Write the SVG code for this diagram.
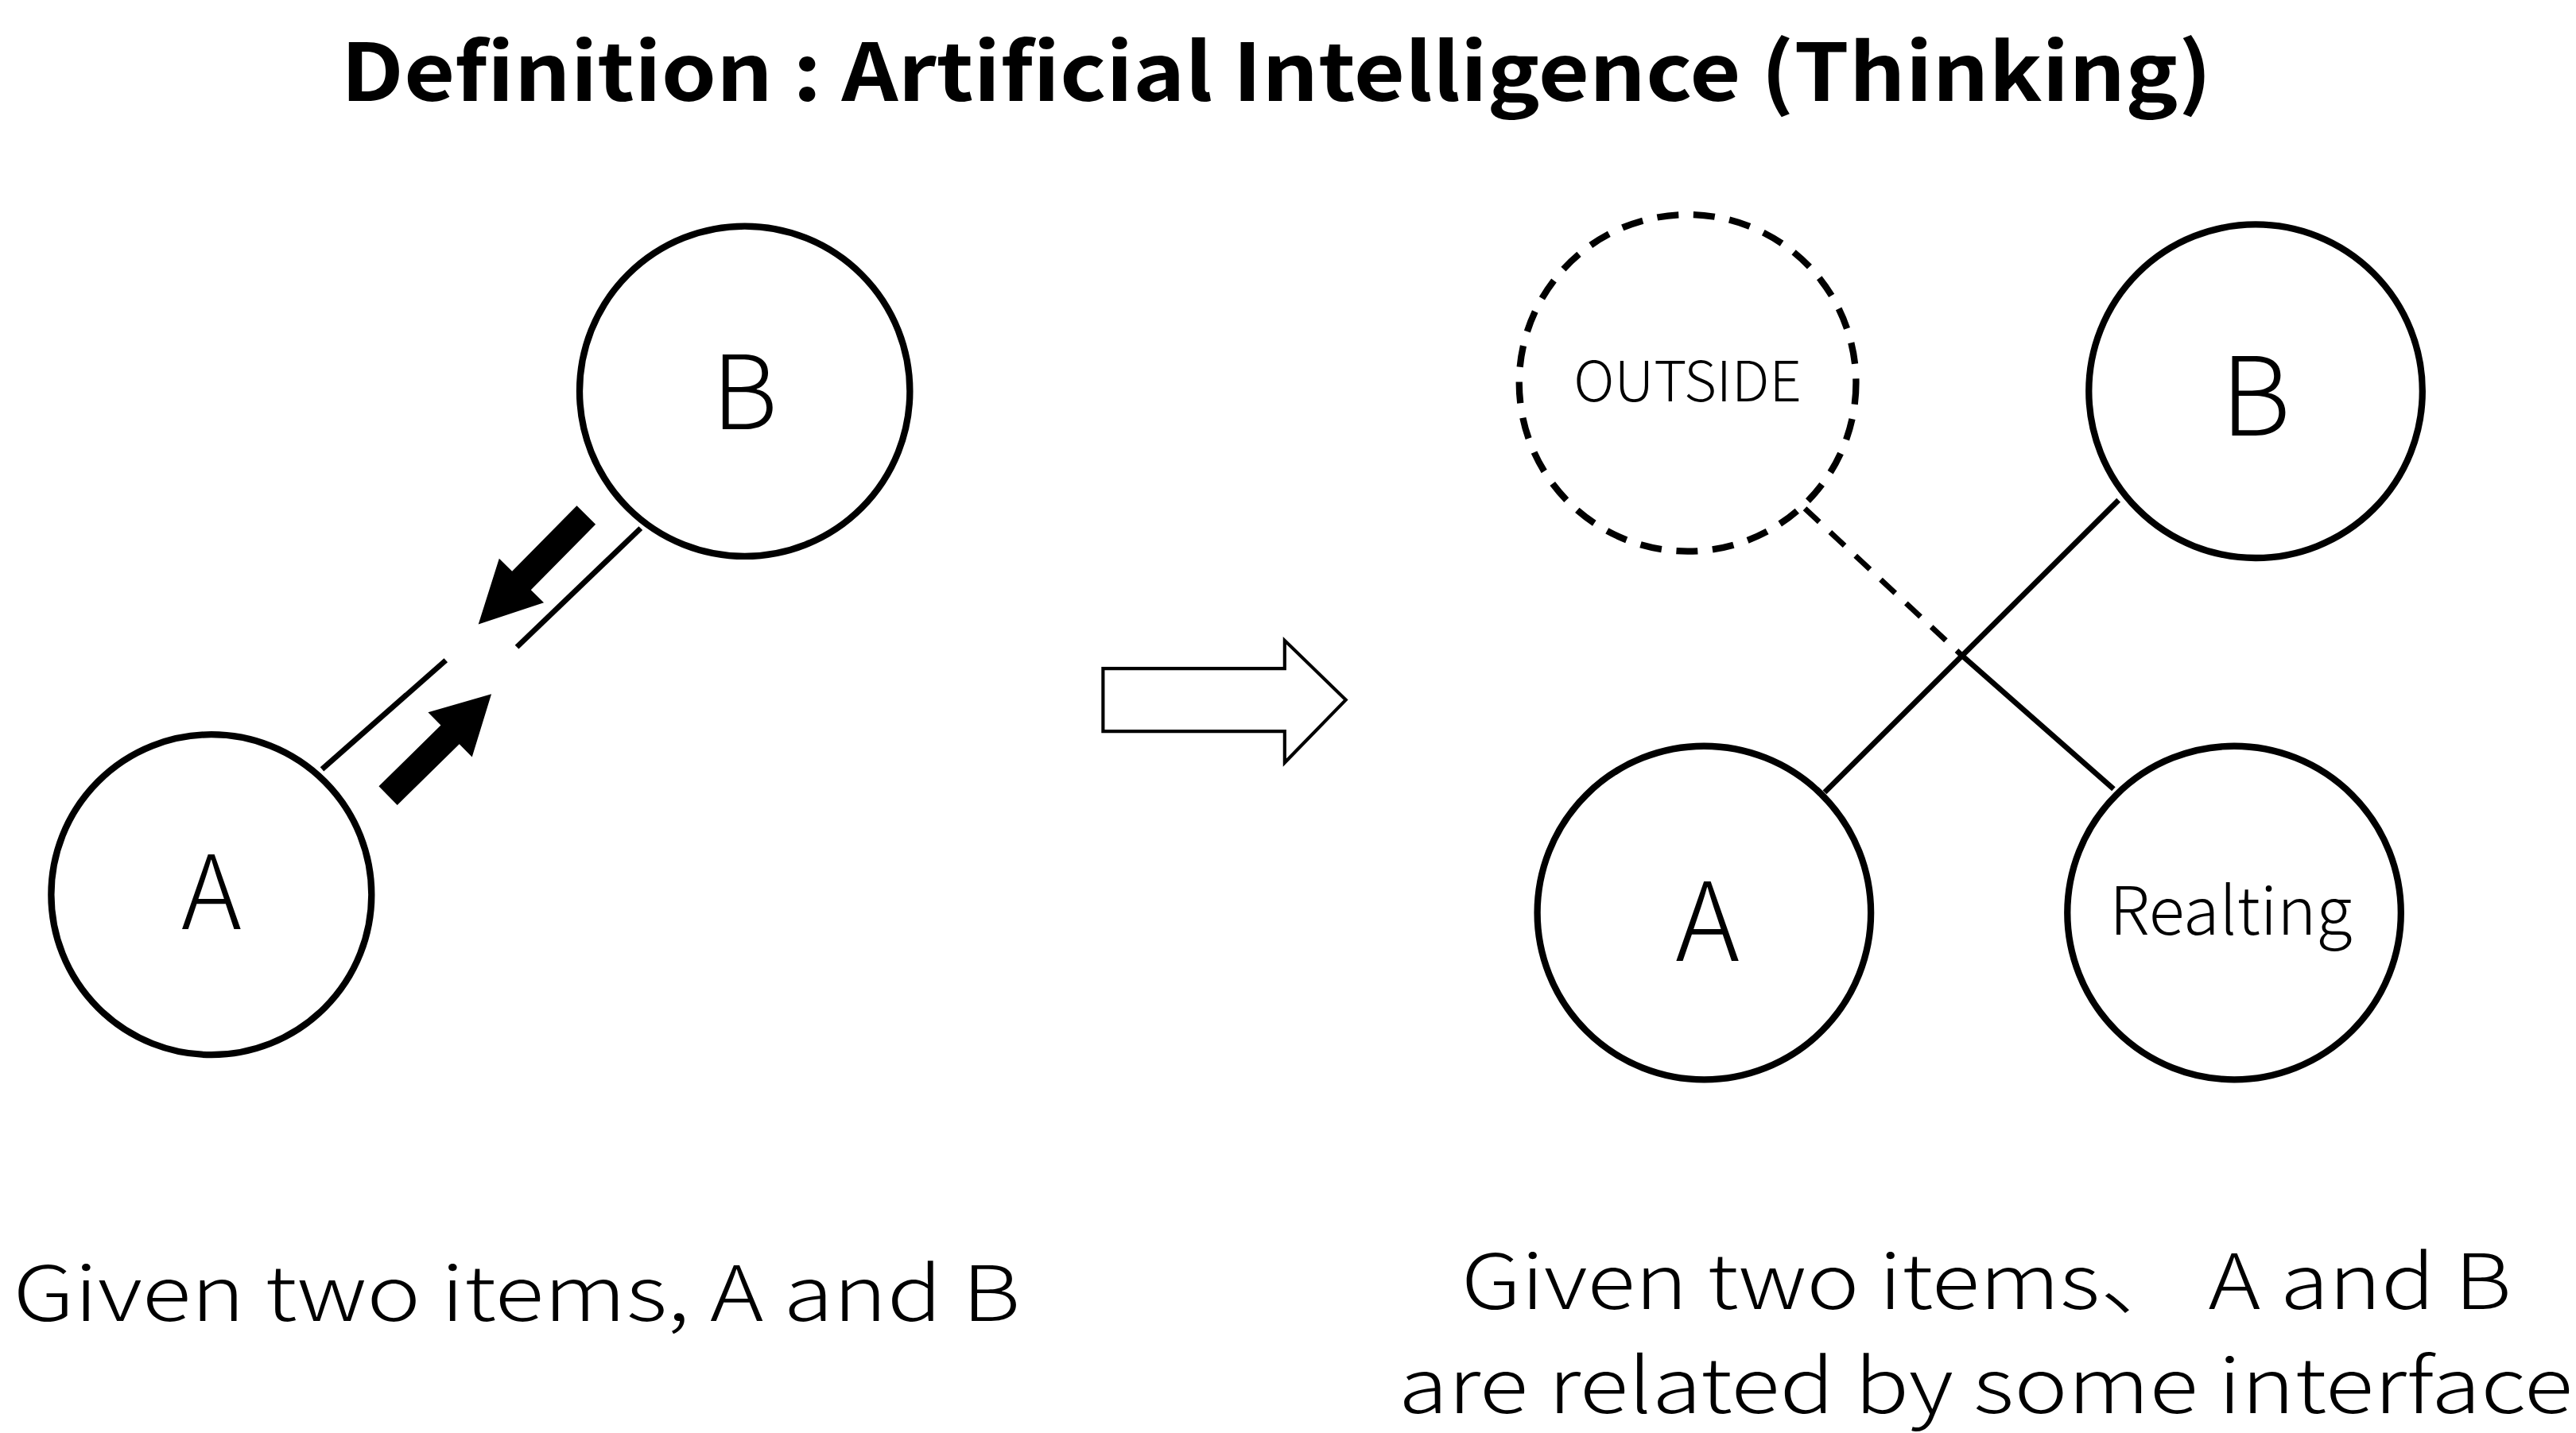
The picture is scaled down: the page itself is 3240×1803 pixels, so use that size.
<svg xmlns="http://www.w3.org/2000/svg" width="3240" height="1803" viewBox="0 0 3240 1803">
<style>
.n{fill:#fff;stroke:#000;stroke-width:4}
.d{fill:#fff;stroke:#000;stroke-width:4;stroke-dasharray:13 9}
.l{stroke:#000;stroke-width:3.3;fill:none}
.t{font-family:"Noto Sans CJK JP","Noto Sans",sans-serif;font-weight:300;fill:#000}
</style>
<rect width="3240" height="1803" fill="#fff"/>
<g transform="scale(2.0769)">
<text id="title" x="773" y="61" text-anchor="middle" class="t" style="font-weight:700;font-size:48px" textLength="1133" lengthAdjust="spacingAndGlyphs">Definition :  Artificial Intelligence (Thinking)</text>
<g id="connectors">
<line class="l" x1="195" y1="466" x2="270" y2="400"/>
<line class="l" x1="388" y1="320" x2="313" y2="392"/>
<polygon points="0,-8 45,-8 45,-19 75,0 45,19 45,8 0,8" fill="#000" transform="translate(235,482) rotate(-44.5) scale(1.17,1)"/>
<polygon points="0,-8 45,-8 45,-19 75,0 45,19 45,8 0,8" fill="#000" transform="translate(355,312) rotate(134.6) scale(1.24,1)"/>
<polygon points="668,405 778,405 778,388 815,424 778,462 778,443 668,443" fill="#fff" stroke="#000" stroke-width="2"/>
<line class="l" x1="1283" y1="303" x2="1105" y2="480"/>
<line class="l" x1="1093" y1="308" x2="1188" y2="397" stroke-dasharray="12 9"/>
<line class="l" x1="1188" y1="397" x2="1280" y2="478"/>
</g>
<g id="leftA"><circle class="n" cx="128" cy="542" r="97"/><text class="t" x="128" y="563" text-anchor="middle" font-size="62">A</text></g>
<g id="leftB"><circle class="n" cx="451" cy="237" r="100"/><text class="t" x="451" y="260" text-anchor="middle" font-size="62">B</text></g>
<g id="outside"><circle class="d" cx="1022" cy="232" r="102"/><text class="t" x="1022" y="243" text-anchor="middle" font-size="34">OUTSIDE</text></g>
<g id="rightB"><circle class="n" cx="1366" cy="237" r="101"/><text class="t" x="1366" y="264" text-anchor="middle" font-size="66">B</text></g>
<g id="rightA"><circle class="n" cx="1032" cy="553" r="101"/><text class="t" x="1034" y="582" text-anchor="middle" font-size="66">A</text></g>
<g id="realting"><circle class="n" cx="1353" cy="553" r="101"/><text class="t" x="1351" y="566" text-anchor="middle" font-size="40">Realting</text></g>
<text class="t" x="8" y="800" font-size="46" textLength="610" lengthAdjust="spacingAndGlyphs">Given two items, A and B</text>
<text class="t" x="885" y="793" font-size="46" textLength="636" lengthAdjust="spacingAndGlyphs">Given two items、 A and B</text>
<text class="t" x="847" y="856" font-size="46" textLength="711" lengthAdjust="spacingAndGlyphs">are related by some interface</text>
</g>
</svg>
